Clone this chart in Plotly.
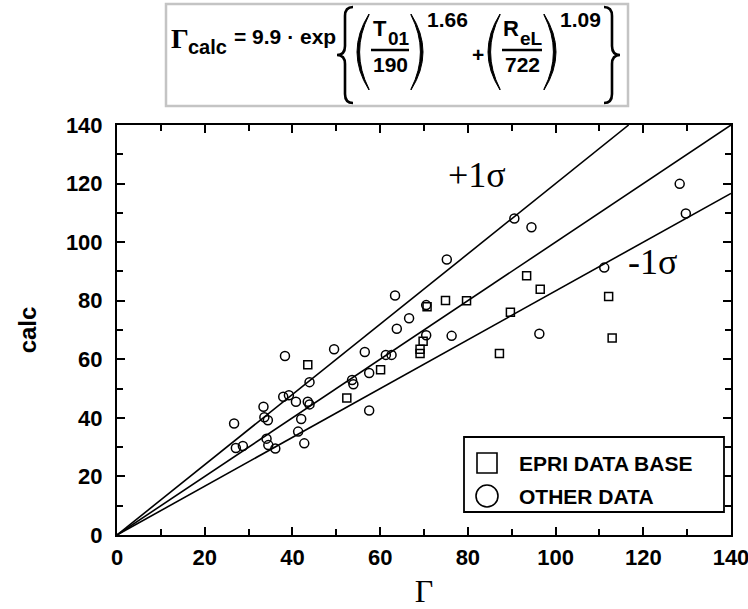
import plotly.graph_objects as go

# ---------------- data ----------------
epri_x = [43.5, 52.4, 60.1, 69.1, 69.1, 69.8, 70.7, 74.9, 79.7, 87.2, 89.7, 93.4, 96.5, 112.1, 112.9]
epri_y = [58.1, 46.8, 56.4, 62.0, 63.4, 66.2, 77.9, 80.1, 80.0, 62.0, 76.1, 88.5, 83.9, 81.4, 67.3]

other_x = [26.7, 27.1, 28.7, 33.4, 33.6, 34.4, 34.1, 34.5, 36.1, 37.9, 38.3, 39.2, 40.8, 41.3,
           42.0, 42.7, 43.5, 43.9, 43.9, 49.5, 53.6, 53.9, 56.5, 57.5, 57.5, 61.3, 62.6, 63.4,
           63.8, 66.6, 70.5, 70.5, 75.2, 76.3, 90.6, 94.5, 96.3, 111.1, 128.3, 129.7]
other_y = [38.1, 29.7, 30.4, 43.8, 40.2, 39.2, 32.9, 30.7, 29.5, 47.2, 61.1, 47.7, 45.5, 35.3,
           39.6, 31.3, 45.5, 44.6, 52.2, 63.4, 52.9, 51.5, 62.5, 55.3, 42.5, 61.5, 61.5, 81.8,
           70.4, 74.0, 78.5, 68.2, 94.1, 68.0, 108.1, 105.1, 68.7, 91.3, 119.9, 109.8]

line_x = [0, 140]
center_slope = 1.0
sigma_factor = 1.2

ticks = [0, 20, 40, 60, 80, 100, 120, 140]
legend_labels = ["EPRI DATA BASE", "OTHER DATA"]

# ---------------- geometry helpers ----------------
W, H = 748, 609
L, R, T, B = 117, 731, 125, 535


def px(x):
    return (x - L) / (R - L)


def py(y):
    return (B - y) / (B - T)


SANS = "Liberation Sans, Arial, sans-serif"
SERIF = "Liberation Serif, Times New Roman, serif"

fig = go.Figure()

# reference lines: calc = Γ, and ±1σ
upper_x = [0, 140 / (center_slope * sigma_factor)]
fig.add_trace(go.Scatter(x=line_x, y=[center_slope * v for v in line_x], mode="lines",
                         line=dict(color="black", width=1.6), showlegend=False, hoverinfo="skip"))
fig.add_trace(go.Scatter(x=upper_x, y=[center_slope * sigma_factor * v for v in upper_x], mode="lines",
                         line=dict(color="black", width=1.6), showlegend=False, hoverinfo="skip"))
fig.add_trace(go.Scatter(x=line_x, y=[center_slope / sigma_factor * v for v in line_x], mode="lines",
                         line=dict(color="black", width=1.6), showlegend=False, hoverinfo="skip"))

fig.add_trace(go.Scatter(x=epri_x, y=epri_y, mode="markers", name=legend_labels[0],
                         marker=dict(symbol="square-open", size=8, color="black", line=dict(width=1.5)),
                         showlegend=False))
fig.add_trace(go.Scatter(x=other_x, y=other_y, mode="markers", name=legend_labels[1],
                         marker=dict(symbol="circle-open", size=9, color="black", line=dict(width=1.5)),
                         showlegend=False))

axis_common = dict(
    range=[0, 140], tickvals=ticks, showgrid=False, zeroline=False, automargin=False,
    showline=True, linecolor="black", linewidth=2, mirror="allticks",
    ticks="inside", ticklen=8, tickwidth=1.5, tickcolor="black",
    ticklabeloverflow="allow",
    tickfont=dict(family=SANS, size=22, color="black", weight="bold"),
    minor=dict(dtick=10, ticks="inside", ticklen=6, tickwidth=1.5, tickcolor="black", showgrid=False),
)

fig.update_xaxes(**axis_common, ticklabelstandoff=2,
                 title=dict(text="Γ", font=dict(family=SERIF, size=32, color="black"), standoff=17))
fig.update_yaxes(**axis_common, ticklabelstandoff=8,
                 title=dict(text="calc", font=dict(family=SANS, size=24, color="black", weight="bold"), standoff=22))

shapes = []
annotations = []

# ---- custom legend ----
shapes.append(dict(type="rect", xref="paper", yref="paper", x0=px(464), x1=px(724), y0=py(512), y1=py(437),
                   line=dict(color="black", width=1.8), fillcolor="white", layer="above"))
shapes.append(dict(type="rect", xref="paper", yref="paper", x0=px(477), x1=px(497), y0=py(473), y1=py(453),
                   line=dict(color="black", width=1.6), layer="above"))
shapes.append(dict(type="circle", xref="paper", yref="paper", x0=px(476), x1=px(498), y0=py(507), y1=py(485),
                   line=dict(color="black", width=1.6), layer="above"))
for lab, yy in zip(legend_labels, [463, 496]):
    annotations.append(dict(text=lab, xref="paper", yref="paper", x=px(517), y=py(yy), xanchor="left",
                            yanchor="middle", showarrow=False,
                            font=dict(family=SANS, size=21, color="black", weight="bold")))

# ---- sigma labels ----
annotations.append(dict(text="+1σ", x=82.1, y=122.9, xref="x", yref="y", showarrow=False,
                        font=dict(family=SERIF, size=36, color="black")))
annotations.append(dict(text="-1σ", x=122.0, y=93.2, xref="x", yref="y", showarrow=False,
                        font=dict(family=SERIF, size=36, color="black")))

# ---- formula box ----
shapes.append(dict(type="rect", xref="paper", yref="paper", x0=px(166), x1=px(628), y0=py(106), y1=py(4),
                   line=dict(color="#c4c4c4", width=2.5)))


def txt(s, x, y, size, family=SANS, bold=True, anchor="center"):
    annotations.append(dict(text=s, xref="paper", yref="paper", x=px(x), y=py(y), xanchor=anchor,
                            yanchor="middle", showarrow=False,
                            font=dict(family=family, size=size, color="black",
                                      weight="bold" if bold else "normal")))


def P(x, y):
    return f"{px(x):.5f},{py(y):.5f}"


def paren(xl, xr, t, b, left=True, th=2.6):
    m = (t + b) / 2
    if left:
        tip, end = xl, xr
        c1 = 2 * tip - end
        c2 = 2 * (tip + th) - end
    else:
        tip, end = xr, xl
        c1 = 2 * tip - end
        c2 = 2 * (tip - th) - end
    path = (f"M{P(end, t)} Q{P(c1, m)} {P(end, b)} "
            f"L{P(end, b - 1)} Q{P(c2, m)} {P(end, t + 1)} Z")
    shapes.append(dict(type="path", xref="paper", yref="paper", path=path,
                       fillcolor="black", line=dict(color="black", width=1)))


def brace(xl, xr, t, b, left=True, r=9):
    m = (t + b) / 2
    xc = (xl + xr) / 2
    tip, end = (xl, xr) if left else (xr, xl)
    path = (f"M{P(end, t)} Q{P(xc, t)} {P(xc, t + r)} L{P(xc, m - r)} "
            f"Q{P(xc, m)} {P(tip, m)} Q{P(xc, m)} {P(xc, m + r)} "
            f"L{P(xc, b - r)} Q{P(xc, b)} {P(end, b)}")
    shapes.append(dict(type="path", xref="paper", yref="paper", path=path,
                       line=dict(color="black", width=2.6)))


txt("Γ", 180, 38, 28, family=SERIF)
txt("calc", 186, 47, 20, anchor="left")
txt("= 9.9 · exp", 232, 36, 21, anchor="left")
brace(337, 353, 7, 103, left=True)
paren(357, 369, 14, 90, left=True)
txt("T", 380, 28, 22)
txt("01", 386, 38, 19, anchor="left")
txt("190", 390, 64, 21)
paren(411, 423, 14, 90, left=False)
txt("1.66", 425, 19, 21, anchor="left")
txt("+", 478, 54, 21)
paren(488, 500, 14, 90, left=True)
txt("R", 511, 28, 22)
txt("eL", 518, 38, 19, anchor="left")
txt("722", 522, 64, 21)
paren(544, 556, 14, 90, left=False)
txt("1.09", 558, 19, 21, anchor="left")
brace(604, 620, 7, 103, left=False)

for x0, x1 in [(371, 409), (502, 542)]:
    shapes.append(dict(type="line", xref="paper", yref="paper", x0=px(x0), x1=px(x1), y0=py(50), y1=py(50),
                       line=dict(color="black", width=2.5)))

fig.update_layout(
    width=W, height=H,
    margin=dict(l=L, r=W - R, t=T, b=H - B, pad=0),
    paper_bgcolor="white", plot_bgcolor="white",
    shapes=shapes, annotations=annotations,
    showlegend=False,
)

fig.write_html("out.html")
